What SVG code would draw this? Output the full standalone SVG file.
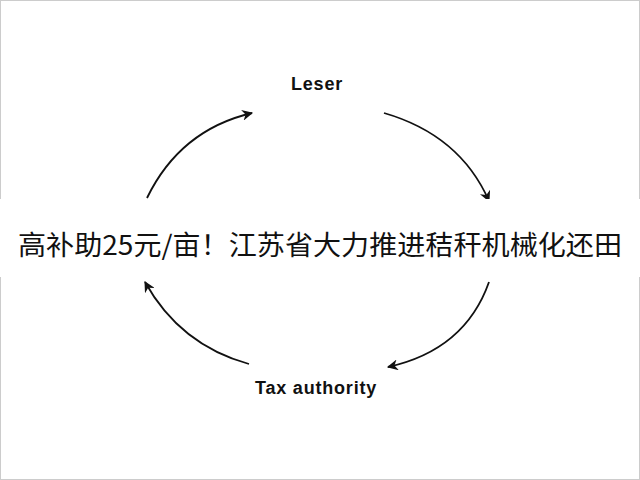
<svg xmlns="http://www.w3.org/2000/svg" width="640" height="480" viewBox="0 0 640 480">
<style>
.lbl{font-family:"Liberation Sans",Arial,sans-serif;font-weight:bold;font-size:18px;letter-spacing:0.8px;fill:#111;text-anchor:middle}
.arc{fill:none;stroke:#111;stroke-width:1.8;marker-end:url(#ah)}
</style>
<defs><marker id="ah" viewBox="0 0 10 10" refX="9" refY="5" markerWidth="11" markerHeight="11" orient="auto" markerUnits="userSpaceOnUse"><path d="M0,0 L10,5 L0,10 L3,5 z" fill="#111"/></marker></defs>
<rect x="0.5" y="0.5" width="639" height="479" fill="#fff" stroke="#ccc"/>
<g id="connectors">
<path class="arc" d="M147,198 Q180,130 252,113"/>
<path class="arc" d="M384,113 Q460,135 489,201"/>
<path class="arc" d="M489,282 Q465,350 388,367"/>
<path class="arc" d="M249,364 Q180,345 145,282"/>
</g>
<g id="leser"><text class="lbl" x="317" y="90">Leser</text></g>
<g id="tax"><text class="lbl" x="316" y="394">Tax authority</text></g>
<rect x="0" y="199" width="640" height="78" fill="#fff"/>
<text x="18" y="255" font-family="'Noto Sans CJK SC','Liberation Sans',sans-serif" font-size="27" fill="#111" textLength="604" lengthAdjust="spacingAndGlyphs">高补助25元/亩！江苏省大力推进秸秆机械化还田</text>
</svg>
